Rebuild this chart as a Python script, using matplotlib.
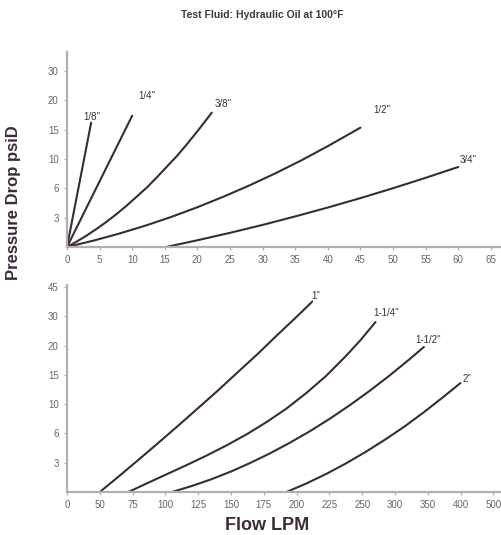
import numpy as np
import matplotlib
matplotlib.use('Agg')
import matplotlib.pyplot as plt

plt.rcParams['font.family'] = ['Liberation Sans', 'DejaVu Sans']

# tick values (the original chart spaces them evenly)
top_x_ticks = [0, 5, 10, 15, 20, 25, 30, 35, 40, 45, 50, 55, 60, 65]
top_y_ticks = [0, 3, 6, 10, 15, 20, 30]
bot_x_ticks = [0, 50, 75, 100, 125, 150, 175, 200, 225, 250, 300, 350, 400, 500]
bot_y_ticks = [0, 3, 6, 10, 15, 20, 30, 45]

# small sizes (flow LPM, pressure drop psiD)
small_names = ['1/8"', '1/4"', '3/8"', '1/2"', '3/4"']
small_flow = [
    [0, 3.7],
    [0, 10],
    [0, 1.53, 3.07, 4.6, 6.13, 7.67, 9.2, 10.7, 12.3, 13.8, 15.3, 16.9, 18.4, 19.9, 22.2],
    [0, 4, 8, 12, 16, 20, 24, 28, 32, 36, 40, 45],
    [15.2, 20, 25, 30, 35, 40, 45, 50, 55, 60],
]
small_dp = [
    [0, 16.2],
    [0, 17.4],
    [0, 0.57, 1.2, 1.88, 2.61, 3.41, 4.26, 5.16, 6.16, 7.52, 8.95, 10.57, 12.54, 14.6, 17.9],
    [0, 0.64, 1.37, 2.18, 3.08, 4.07, 5.15, 6.41, 8.07, 9.85, 12.2, 15.35],
    [0, 0.69, 1.45, 2.26, 3.13, 4.04, 5.0, 6.02, 7.44, 8.92],
]

# large sizes
large_names = ['1"', '1-1/4"', '1-1/2"', '2"']
large_flow = [
    [50, 65.1, 80.1, 95.2, 110.2, 125.3, 140.4, 155.4, 170.5, 185.5, 200.6, 211.9],
    [71.8, 86.9, 102, 117, 132.1, 147.1, 162.2, 177.3, 192.3, 207.4, 222.4, 237.5, 248.8, 270.2],
    [105, 120, 135.1, 150.2, 165.2, 180.3, 195.3, 210.4, 225.5, 240.5, 261.1, 291.3, 321.4, 344],
    [192.3, 207.4, 222.4, 237.5, 255.1, 285.2, 315.4, 345.5, 375.6, 399.7],
]
large_dp = [
    [0, 1.67, 3.37, 5.1, 7.13, 9.52, 12.4, 15.5, 18.6, 23.7, 30.1, 37.5],
    [0, 0.95, 1.88, 2.81, 3.78, 4.81, 5.93, 7.57, 9.4, 11.9, 14.8, 18.2, 21.9, 28.0],
    [0, 0.61, 1.31, 2.11, 3.01, 4.0, 5.08, 6.33, 8.03, 9.85, 12.25, 14.85, 17.6, 19.75],
    [0, 0.87, 1.84, 2.92, 4.1, 5.38, 7.0, 9.0, 11.4, 13.6],
]

# label offsets in pixels from the end of each curve
small_offsets = [(1, 6), (15, 20), (11, 9), (21, 18), (10, 7)]
large_offsets = [(4, 6), (11, 9), (4, 7), (7, 4)]

LINE = '#3b2a3a'
AXIS = '#b0b0b0'
TICKLAB = '#666666'


def piecewise(knots):
    """evenly spaced ticks -> scale functions with linear ends"""
    k = np.asarray(knots, float)
    idx = np.arange(len(k), dtype=float)

    def fwd(v):
        v = np.asarray(v, float)
        out = np.interp(v, k, idx)
        out = np.where(v > k[-1], idx[-1] + (v - k[-1]) / (k[-1] - k[-2]), out)
        out = np.where(v < k[0], (v - k[0]) / (k[1] - k[0]), out)
        return out

    def inv(p):
        p = np.asarray(p, float)
        out = np.interp(p, idx, k)
        out = np.where(p > idx[-1], k[-1] + (p - idx[-1]) * (k[-1] - k[-2]), out)
        out = np.where(p < 0, p * (k[1] - k[0]), out)
        return out

    return fwd, inv


def style(ax, xt, yt):
    for s in ['top', 'right']:
        ax.spines[s].set_visible(False)
    for s in ['left', 'bottom']:
        ax.spines[s].set_color(AXIS)
        ax.spines[s].set_linewidth(1.6)
    ax.set_xticks(xt)
    ax.set_xticklabels([str(t) for t in xt])
    ax.set_yticks(yt[1:])
    ax.set_yticklabels([str(t) for t in yt[1:]])
    ax.minorticks_off()
    ax.tick_params(length=2.5, width=0.9, color=AXIS, labelsize=7,
                   labelcolor=TICKLAB, pad=3.5)


fig = plt.figure(figsize=(5.01, 5.35), dpi=100)

ax1 = fig.add_axes([67 / 501, 1 - 247 / 535, 433 / 501, 195 / 535])
ax1.set_yscale('function', functions=piecewise(top_y_ticks))
for name, q, dp, off in zip(small_names, small_flow, small_dp, small_offsets):
    ax1.plot(q, dp, color=LINE, lw=1.5, solid_capstyle='round')
    ax1.annotate(name, (q[-1], dp[-1]), xytext=off, textcoords='offset pixels',
                 ha='center', va='center', fontsize=7, color='#333333')
ax1.set_xlim(0, 66.4)
ax1.set_ylim(0, 36.5)
style(ax1, top_x_ticks, top_y_ticks)

ax2 = fig.add_axes([67 / 501, 1 - 492 / 535, 433 / 501, 207 / 535])
ax2.set_xscale('function', functions=piecewise(bot_x_ticks))
ax2.set_yscale('function', functions=piecewise(bot_y_ticks))
for name, q, dp, off in zip(large_names, large_flow, large_dp, large_offsets):
    ax2.plot(q, dp, color=LINE, lw=1.5, solid_capstyle='round')
    ax2.annotate(name, (q[-1], dp[-1]), xytext=off, textcoords='offset pixels',
                 ha='center', va='center', fontsize=7, color='#333333')
ax2.set_xlim(0, 520)
ax2.set_ylim(0, 46)
style(ax2, bot_x_ticks, bot_y_ticks)

fig.text(262 / 501, 1 - 15 / 535, 'Test Fluid: Hydraulic Oil at 100°F',
         ha='center', va='center', fontsize=7.5, fontweight='bold', color='#3a3a3a')
fig.text(14 / 501, 1 - 203 / 535, 'Pressure Drop psiD', rotation=90,
         ha='center', va='center', fontsize=12, fontweight='bold', color='#3b2a3a')
fig.text(267 / 501, 1 - 526 / 535, 'Flow LPM',
         ha='center', va='center', fontsize=13, fontweight='bold', color='#3b2a3a')

fig.savefig('out.png', dpi=100)
